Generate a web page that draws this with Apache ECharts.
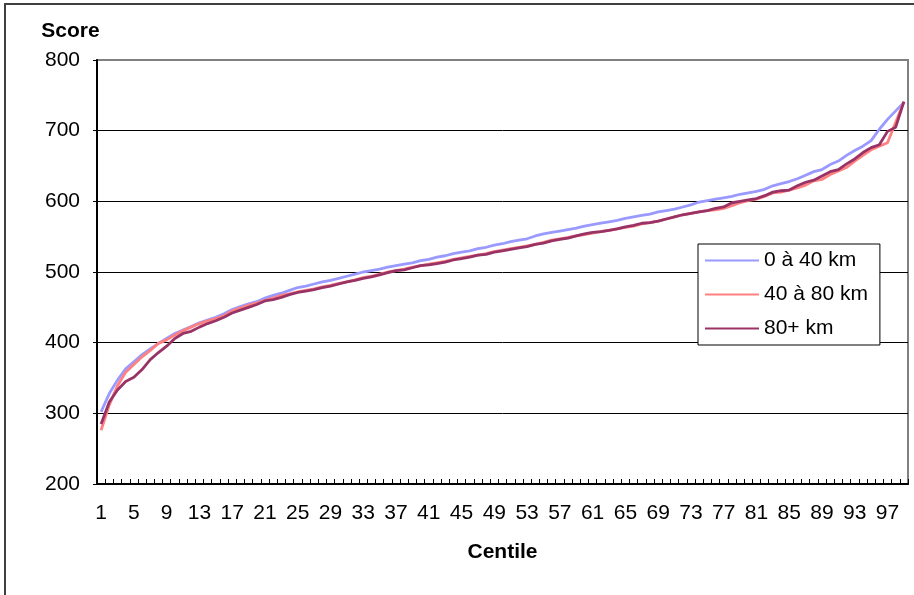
<!DOCTYPE html>
<html>
<head>
<meta charset="utf-8">
<title>Score par centile</title>
<script src="https://cdn.jsdelivr.net/npm/echarts@6/dist/echarts.min.js"></script>
<style>
  html, body { margin: 0; padding: 0; background: #ffffff; }
  #chart { width: 914px; height: 595px; }
</style>
</head>
<body>
<div id="chart"></div>
<script>
// Centiles 1..99
const centiles = Array.from({ length: 99 }, (_, i) => String(i + 1));

// Score at each centile, by distance band
const score0to40 = [
  302, 328, 347, 363, 373, 383, 391, 399, 406, 413,
  418, 423, 428, 432, 436, 441, 447, 451, 455, 458,
  463, 467, 470, 474, 478, 480, 483, 486, 488, 491,
  494, 497, 500, 502, 504, 507, 509, 511, 513, 516,
  518, 521, 523, 526, 528, 530, 533, 535, 538, 540,
  543, 545, 547, 551, 554, 556, 558, 560, 562, 565,
  567, 569, 571, 573, 576, 578, 580, 582, 585, 587,
  589, 592, 595, 599, 601, 603, 605, 607, 610, 612,
  614, 617, 622, 625, 628, 632, 637, 642, 645, 652,
  657, 665, 672, 678, 686, 702, 716, 728, 740
];

const score40to80 = [
  276, 312, 339, 358, 369, 380, 389, 399, 404, 411,
  417, 422, 427, 431, 434, 438, 445, 449, 453, 456,
  460, 463, 467, 469, 472, 474, 476, 479, 481, 484,
  486, 489, 492, 494, 497, 500, 502, 504, 507, 509,
  511, 513, 515, 518, 520, 522, 524, 526, 529, 531,
  533, 535, 537, 539, 542, 545, 547, 549, 551, 553,
  555, 557, 559, 561, 563, 565, 568, 570, 572, 575,
  578, 581, 583, 585, 587, 588, 590, 594, 598, 601,
  603, 607, 612, 613, 616, 619, 623, 629, 631, 638,
  643, 648, 657, 665, 673, 678, 683, 712, 741
];

const score80plus = [
  285, 316, 333, 345, 351, 362, 376, 386, 395, 406,
  413, 416, 422, 427, 431, 436, 442, 446, 450, 454,
  459, 461, 464, 468, 471, 473, 475, 478, 480, 483,
  486, 488, 491, 493, 496, 499, 502, 503, 506, 509,
  510, 512, 514, 517, 519, 521, 524, 525, 528, 530,
  532, 534, 536, 539, 541, 544, 546, 548, 551, 554,
  556, 557, 559, 561, 564, 566, 569, 570, 572, 575,
  578, 581, 583, 585, 587, 590, 592, 598, 600, 602,
  604, 608, 613, 615, 616, 622, 627, 630, 636, 642,
  645, 653, 660, 669, 676, 680, 699, 705, 741
];

const seriesNames = ['0 à 40 km', '40 à 80 km', '80+ km'];
const seriesColors = ['#9999ff', '#ff8080', '#993366'];
const seriesValues = [score0to40, score40to80, score80plus];

const FONT = '"Liberation Sans", Arial, sans-serif';
const FONT_SIZE = 21;

const chart = echarts.init(document.getElementById('chart'), null, { renderer: 'canvas' });

chart.setOption({
  backgroundColor: '#ffffff',
  animation: false,
  textStyle: { fontFamily: FONT, color: '#000000' },
  graphic: [{
    type: 'rect',
    shape: { x: 5, y: 4, width: 940, height: 620 },
    style: { fill: 'none', stroke: '#404040', lineWidth: 2 },
    silent: true,
    z: -10
  }],
  grid: {
    left: 97,
    right: 6,
    top: 60,
    bottom: 111,
    show: true,
    borderColor: '#808080',
    borderWidth: 2,
    backgroundColor: 'transparent'
  },
  legend: {
    orient: 'vertical',
    left: 698,
    top: 244,
    data: seriesNames,
    backgroundColor: '#ffffff',
    borderColor: '#000000',
    borderWidth: 1,
    padding: [6, 12, 6, 7],
    itemWidth: 54,
    itemHeight: 21,
    itemGap: 13,
    icon: 'path://M0,8 L52,8 L52,10 L0,10 Z',
    textStyle: { fontFamily: FONT, fontSize: FONT_SIZE, color: '#000000' }
  },
  xAxis: {
    type: 'category',
    data: centiles,
    boundaryGap: true,
    name: 'Centile',
    nameLocation: 'middle',
    nameGap: 58,
    nameTextStyle: { fontFamily: FONT, fontSize: FONT_SIZE, fontWeight: 'bold', color: '#000000' },
    axisLine: { show: true, lineStyle: { color: '#000000', width: 2 } },
    axisTick: { show: true, inside: true, length: 5, interval: 0, lineStyle: { color: '#000000', width: 1 } },
    axisLabel: { interval: 3, margin: 19, fontFamily: FONT, fontSize: FONT_SIZE, color: '#000000' },
    splitLine: { show: false }
  },
  yAxis: {
    type: 'value',
    min: 200,
    max: 800,
    interval: 100,
    name: 'Score',
    nameLocation: 'end',
    nameGap: 18,
    nameTextStyle: { fontFamily: FONT, fontSize: FONT_SIZE, fontWeight: 'bold', color: '#000000', align: 'center', padding: [0, 53, 0, 0] },
    axisLine: { show: true, lineStyle: { color: '#000000', width: 2 } },
    axisTick: { show: true, inside: false, length: 4, lineStyle: { color: '#000000', width: 1 } },
    axisLabel: { margin: 17, fontFamily: FONT, fontSize: FONT_SIZE, color: '#000000' },
    splitLine: { show: true, showMinLine: false, showMaxLine: false, lineStyle: { color: '#000000', width: 1 } }
  },
  series: seriesValues.map((vals, i) => ({
    name: seriesNames[i],
    type: 'line',
    data: vals,
    symbol: 'none',
    showSymbol: false,
    smooth: false,
    color: seriesColors[i],
    lineStyle: { color: seriesColors[i], width: 2.8 },
    z: 2 + i
  }))
});
</script>
</body>
</html>
